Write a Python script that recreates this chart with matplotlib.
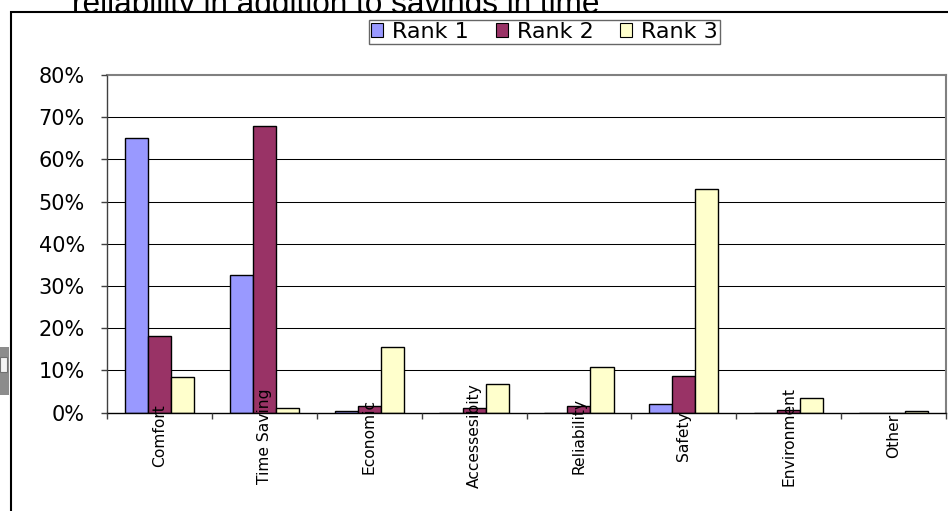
import matplotlib
matplotlib.use("Agg")
import matplotlib.pyplot as plt
from matplotlib.patches import Rectangle, Patch
from matplotlib.ticker import FuncFormatter, FixedLocator, NullFormatter
import numpy as np

plt.rcParams['font.family'] = ['DejaVu Sans']

categories = ["Comfort", "Time Saving", "Economic", "Accessesibity",
              "Reliability", "Safety", "Environment", "Other"]
series_names = ["Rank 1", "Rank 2", "Rank 3"]
rank1 = [65.0, 32.7, 0.3, 0.0, 0.0, 1.9, 0.0, 0.0]
rank2 = [18.2, 68.0, 1.6, 1.1, 1.6, 8.7, 0.5, 0.0]
rank3 = [8.4, 1.1, 15.5, 6.8, 10.8, 53.0, 3.5, 0.3]
colors = ["#9999FF", "#993366", "#FFFFCC"]
title_text = "reliability in addition to savings in time"
yticks = [0, 10, 20, 30, 40, 50, 60, 70, 80]

W, H = 948, 511
fig = plt.figure(figsize=(W / 100, H / 100), dpi=100)

# clipped heading text behind the chart frame
fig.text(72 / W, 1 - 12.5 / H, title_text, fontsize=22.7, va='baseline',
         ha='left', color='black', zorder=0.5, family=['Liberation Sans', 'DejaVu Sans'])

# chart area frame
frame = Rectangle((11 / W, -0.2), 1.5, (1 - 12 / H) + 0.2, transform=fig.transFigure,
                  facecolor='white', edgecolor='black', linewidth=1.5, zorder=1)
fig.add_artist(frame)

# small grey widget at the left edge
fig.add_artist(Rectangle((0, 1 - 395 / H), 9 / W, 48 / H, transform=fig.transFigure,
                         facecolor='#8c8c8c', edgecolor='none', zorder=3))
fig.add_artist(Rectangle((0, 1 - 372 / H), 7 / W, 15 / H, transform=fig.transFigure,
                         facecolor='#f4f4f4', edgecolor='#707070', linewidth=0.8, zorder=4))

left, right, top, bottom = 107, 946, 75, 412.5
ax = fig.add_axes([left / W, 1 - bottom / H, (right - left) / W, (bottom - top) / H], zorder=2)
ax.patch.set_visible(False)

x = np.arange(len(categories)) + 0.5
bw = 0.22
for i, (vals, c, name) in enumerate(zip([rank1, rank2, rank3], colors, series_names)):
    ax.bar(x + (i - 1) * bw, vals, width=bw, color=c, edgecolor='black',
           linewidth=1.0, label=name, zorder=2)

ax.set_xlim(0, len(categories))
ax.set_ylim(0, 80)
ax.set_yticks(yticks)
ax.yaxis.set_major_formatter(FuncFormatter(lambda v, p: f"{int(v)}%"))
# gridlines behind the bars, tick labels above them
for yv in yticks[1:-1]:
    ax.axhline(yv, color='black', linewidth=0.75, zorder=1)
ax.set_axisbelow(False)

ax.xaxis.set_major_locator(FixedLocator(np.arange(0, len(categories) + 1)))
ax.xaxis.set_major_formatter(NullFormatter())
ax.xaxis.set_minor_locator(FixedLocator(x))
ax.set_xticklabels(categories, minor=True, rotation=90, fontsize=11.2, va='center', ha='center')
ax.tick_params(axis='x', which='major', length=4, width=1, color='#404040', direction='out')
ax.tick_params(axis='x', which='minor', length=0, pad=17)
ax.tick_params(axis='y', which='major', length=4.5, width=1, color='#404040',
               direction='out', labelsize=15, pad=11.5)

for s in ['top', 'right']:
    ax.spines[s].set_color('#808080')
    ax.spines[s].set_linewidth(1.5)
ax.spines['left'].set_color('#404040')
ax.spines['left'].set_linewidth(1.0)
ax.spines['bottom'].set_color('black')
ax.spines['bottom'].set_linewidth(1.0)

handles = [Patch(facecolor=c, edgecolor='black', linewidth=0.8) for c in colors]
leg = fig.legend(handles, series_names, loc='center', bbox_to_anchor=(544.5 / W, 1 - 32 / H),
                 ncol=3, fontsize=16, frameon=True, fancybox=False, shadow=False,
                 handlelength=0.55, handleheight=0.55, handletextpad=0.4,
                 columnspacing=1.2, borderpad=0.1, borderaxespad=0)
leg.get_frame().set_edgecolor('#404040')
leg.get_frame().set_linewidth(1.0)
leg.set_zorder(5)

fig.savefig("out.png", dpi=100)
